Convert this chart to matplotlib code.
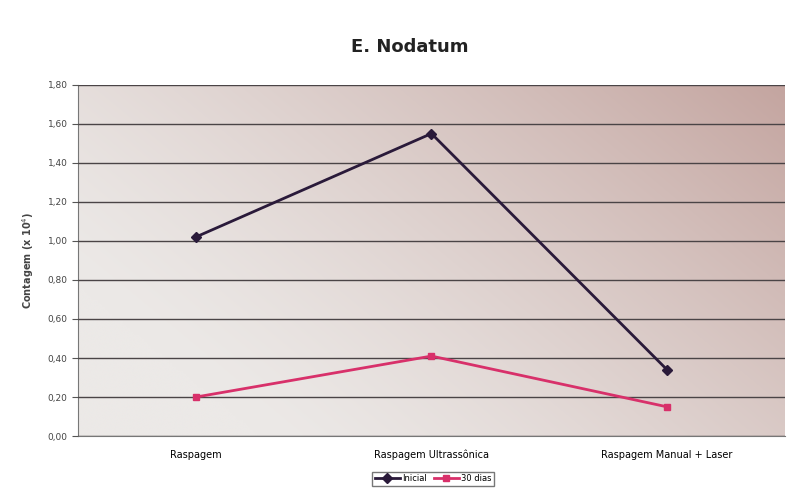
import numpy as np
import matplotlib
matplotlib.use("Agg")
import matplotlib.pyplot as plt
from matplotlib.ticker import FuncFormatter, MultipleLocator

categories = ["Raspagem", "Raspagem Ultrassônica", "Raspagem Manual + Laser"]
inicial = [1.02, 1.55, 0.34]
dias30 = [0.20, 0.41, 0.15]
series_names = ["Inicial", "30 dias"]
title = "E. Nodatum"
ylabel = "Contagem (x 10$^{4}$)"

fig = plt.figure(figsize=(7.88, 4.9), dpi=100)
fig.patch.set_facecolor("white")
ax = fig.add_axes([0.099, 0.110, 0.897, 0.717])

x = np.arange(len(categories))
ax.set_xlim(-0.5, len(categories) - 0.5)
ax.set_ylim(0, 1.8)

# diagonal gradient background
nx, ny = 200, 100
gx, gy = np.meshgrid(np.linspace(0, 1, nx), np.linspace(0, 1, ny))
t = np.clip(0.75 * gx + 0.45 * gy - 0.2, 0, 1) ** 1.3
c0 = np.array([236, 233, 231]) / 255
c1 = np.array([196, 165, 160]) / 255
img = c0[None, None, :] * (1 - t[..., None]) + c1[None, None, :] * t[..., None]
ax.imshow(img, extent=(-0.5, len(categories) - 0.5, 0, 1.8), origin="lower",
          aspect="auto", zorder=0, interpolation="bicubic")

ax.yaxis.set_major_locator(MultipleLocator(0.2))
ax.yaxis.set_major_formatter(FuncFormatter(lambda v, p: f"{v:.2f}".replace(".", ",")))
ax.grid(axis="y", color="#4a4446", linewidth=1.0, zorder=1)
ax.set_axisbelow(False)

ax.plot(x, inicial, color="#2a1a3a", linewidth=2, marker="D", markersize=5,
        label=series_names[0], zorder=3)
ax.plot(x, dias30, color="#d8306a", linewidth=2, marker="s", markersize=4,
        label=series_names[1], zorder=3)

ax.set_xticks(x)
ax.set_xticklabels(categories, fontsize=7)
ax.tick_params(axis="x", length=0, pad=10)
ax.tick_params(axis="y", labelsize=6.5, length=4, color="#555555", labelcolor="#444444")
for s in ["top", "right"]:
    ax.spines[s].set_visible(False)
ax.spines["left"].set_color("#777777")
ax.spines["bottom"].set_color("#777777")

ax.set_ylabel(ylabel, fontsize=7, fontweight="bold", color="#444444", labelpad=8)
fig.text(0.52, 0.905, title, ha="center", va="center", fontsize=13, fontweight="bold", color="#222222")

leg = fig.legend(loc="center", bbox_to_anchor=(0.55, 0.023), ncol=2, fontsize=6,
                 frameon=True, fancybox=False, edgecolor="#555555",
                 handlelength=3, columnspacing=0.8, handletextpad=0.3, borderpad=0.3)

fig.savefig("out.png", dpi=100)
